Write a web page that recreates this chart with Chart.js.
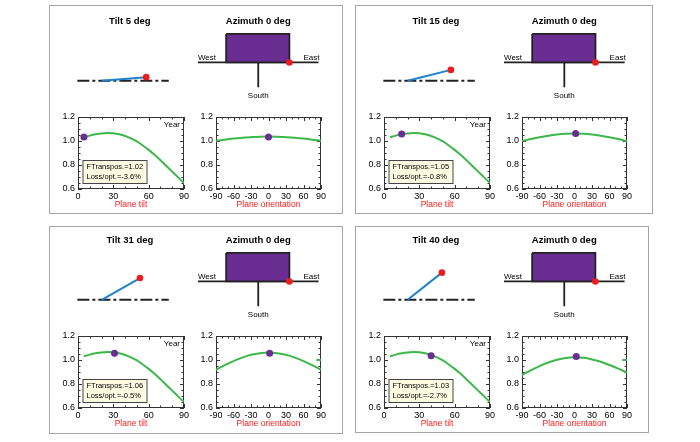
<!DOCTYPE html>
<html>
<head>
<meta charset="utf-8">
<script src="https://cdn.jsdelivr.net/npm/chart.js@4.4.1/dist/chart.umd.min.js"></script>
<style>
  body { margin: 0; background: #fff; width: 700px; height: 442px; overflow: hidden; position: relative; }
  .panel { position: absolute; border: 1.5px solid #a4a4a4; box-sizing: border-box; }
  canvas { position: absolute; }
</style>
</head>
<body>
<script>
// plane settings for the four cases
const tilts = [5, 15, 31, 40];
const azimuths = [0, 0, 0, 0];
const fTranspos = [1.02, 1.05, 1.06, 1.03];
const lossOpt = [-3.6, -0.8, -0.5, -2.7];

// yearly transposition factor vs plane tilt (same curve in all panels)
const tiltAngles = [5, 10, 15, 20, 25, 30, 35, 40, 45, 50, 55, 60, 65, 70, 75, 80, 85, 90];
const tiltYear = [1.030, 1.045, 1.056, 1.063, 1.066, 1.064, 1.056, 1.042, 1.022, 0.996, 0.963, 0.926, 0.885, 0.840, 0.792, 0.745, 0.697, 0.650];
const tiltDotY = [1.033, 1.058, 1.057, 1.035];

// transposition factor vs plane orientation, one curve per tilt
const orientAngles = [-90, -75, -60, -45, -30, -15, 0, 15, 30, 45, 60, 75, 90];
const orient5 = [1.002, 1.011, 1.020, 1.027, 1.032, 1.036, 1.037, 1.036, 1.032, 1.027, 1.020, 1.011, 1.002];
const orient15 = [1.000, 1.016, 1.031, 1.044, 1.054, 1.060, 1.062, 1.060, 1.054, 1.044, 1.031, 1.016, 0.998];
const orient31 = [0.920, 0.957, 0.991, 1.020, 1.043, 1.057, 1.062, 1.057, 1.043, 1.020, 0.991, 0.957, 0.920];
const orient40 = [0.875, 0.914, 0.949, 0.979, 1.002, 1.017, 1.022, 1.018, 1.005, 0.985, 0.958, 0.928, 0.895];
const orientCurves = [orient5, orient15, orient31, orient40];
const orientDotX = [0, 2, 2, 3];
const orientDotY = [1.033, 1.063, 1.057, 1.029];
const stubAngles = [82, 90];
const stubY = [null, null, 1.0, 1.0];

const tiltTicks = [0, 30, 60, 90];
const orientTicks = [-90, -60, -30, 0, 30, 60, 90];
const yTicks = [0.6, 0.8, 1.0, 1.2];

const FONT = "'Liberation Sans', Arial, Helvetica, sans-serif";
const GREEN = '#3cb84a';
const PURPLE = '#6a2d92';
const RED = '#ee1c1c';

const frames = [
  {x: 50, y: 6, w: 292, h: 207, dy: 0},
  {x: 356, y: 6, w: 296, h: 207, dy: 0},
  {x: 50, y: 227, w: 292, h: 206, dy: -2},
  {x: 356, y: 227, w: 292, h: 205, dy: -2}
];

function makeCanvas(left, top, w, h) {
  const c = document.createElement('canvas');
  c.width = w; c.height = h;
  c.style.left = left + 'px'; c.style.top = top + 'px';
  c.style.width = w + 'px'; c.style.height = h + 'px';
  document.body.appendChild(c);
  return c;
}

const baseOpts = {
  responsive: false,
  animation: false,
  events: [],
  plugins: { legend: { display: false }, tooltip: { enabled: false } }
};

// labels of the two little diagrams
const diagramText = {
  id: 'diagramText',
  afterDraw(chart, args, o) {
    const {ctx, scales: {x, y}} = chart;
    ctx.save();
    ctx.fillStyle = '#000';
    ctx.textBaseline = 'middle';
    ctx.textAlign = 'center';
    ctx.font = 'bold 9.5px ' + FONT;
    ctx.fillText(o.tiltTitle, x.getPixelForValue(78), y.getPixelForValue(12));
    ctx.fillText(o.azTitle, x.getPixelForValue(210), y.getPixelForValue(12));
    ctx.font = '8px ' + FONT;
    ctx.fillText('South', x.getPixelForValue(210), y.getPixelForValue(93));
    ctx.textAlign = 'left';
    ctx.fillText('West', x.getPixelForValue(148), y.getPixelForValue(52));
    ctx.textAlign = 'right';
    ctx.fillText('East', x.getPixelForValue(273), y.getPixelForValue(52));
    ctx.restore();
  }
};

// frame with inward ticks, "Year" label and info box
const axesBox = {
  id: 'axesBox',
  beforeDatasetsDraw(chart, args, o) {
    const {ctx, chartArea: a, scales: {x, y}} = chart;
    ctx.save();
    ctx.strokeStyle = '#333';
    ctx.lineWidth = 1;
    ctx.strokeRect(a.left + 0.5, a.top + 0.5, a.width - 1, a.height - 1);
    ctx.beginPath();
    for (let v = x.min; v <= x.max; v += 10) {
      const px = Math.round(x.getPixelForValue(v)) + 0.5;
      const len = v % 30 === 0 ? 4 : 2.5;
      ctx.moveTo(px, a.bottom); ctx.lineTo(px, a.bottom - len);
      ctx.moveTo(px, a.top); ctx.lineTo(px, a.top + len);
    }
    for (let k = 0; k <= 12; k++) {
      const py = Math.round(y.getPixelForValue(0.6 + k * 0.05)) + 0.5;
      const len = k % 4 === 0 ? 4 : 2.5;
      ctx.moveTo(a.left, py); ctx.lineTo(a.left + len, py);
      ctx.moveTo(a.right, py); ctx.lineTo(a.right - len, py);
    }
    ctx.stroke();
    ctx.restore();
  },
  afterDraw(chart, args, o) {
    if (!o.info) return;
    const {ctx, chartArea: a} = chart;
    ctx.save();
    ctx.fillStyle = '#000';
    ctx.font = '8px ' + FONT;
    ctx.textAlign = 'right';
    ctx.textBaseline = 'middle';
    ctx.fillText('Year', a.right - 4, a.top + 8);
    const bx = a.left + 4.5, bw = 64, bh = 23, by = a.bottom - 6 - bh;
    ctx.fillStyle = '#fffbe3';
    ctx.fillRect(bx, by, bw, bh);
    ctx.strokeStyle = '#444';
    ctx.strokeRect(bx + 0.5, by + 0.5, bw, bh);
    ctx.fillStyle = '#000';
    ctx.textAlign = 'left';
    ctx.font = '7.5px ' + FONT;
    ctx.fillText(o.info[0], bx + 4, by + 7);
    ctx.fillText(o.info[1], bx + 4, by + 17);
    ctx.restore();
  }
};

function diagram(i, f) {
  const T = f.y + f.dy;
  const c = makeCanvas(f.x, T, f.w, 100);
  const t = tilts[i] * Math.PI / 180;
  const px = 49, py = 77, len = 46;
  const tip = {x: px + len * Math.cos(t), y: py - len * Math.sin(t)};
  const azDot = {x: 242 - azimuths[i], y: 57};
  new Chart(c, {
    type: 'line',
    data: {
      datasets: [
        { data: [tip, azDot], showLine: false, pointRadius: 3.3, pointBackgroundColor: RED, pointBorderWidth: 0 },
        { data: [{x: px, y: py}, tip], borderColor: '#1f80cc', borderWidth: 2, pointRadius: 0 },
        { data: [{x: 24, y: 77}, {x: 118, y: 77}], borderColor: '#222', borderWidth: 2, borderDash: [12, 3, 3, 3], pointRadius: 0 },
        { data: [{x: 177, y: 26}, {x: 242, y: 26}, {x: 242, y: 57}, {x: 177, y: 57}, {x: 177, y: 26}],
          borderColor: '#222', borderWidth: 1.8, backgroundColor: PURPLE, fill: 'shape', pointRadius: 0, tension: 0 },
        { data: [{x: 148, y: 57}, {x: 272, y: 57}], borderColor: '#222', borderWidth: 1.8, pointRadius: 0 },
        { data: [{x: 210, y: 57}, {x: 210, y: 84}], borderColor: '#222', borderWidth: 1.8, pointRadius: 0 }
      ]
    },
    options: {
      ...baseOpts,
      layout: { padding: 0 },
      scales: {
        x: { type: 'linear', display: false, min: 0, max: f.w },
        y: { type: 'linear', display: false, min: 0, max: 100, reverse: true }
      },
      plugins: {
        ...baseOpts.plugins,
        diagramText: { tiltTitle: 'Tilt ' + tilts[i] + ' deg', azTitle: 'Azimuth ' + azimuths[i] + ' deg' }
      }
    },
    plugins: [diagramText]
  });
}

function plot(f, relLeft, plotW, xMin, xMax, ticks, title, datasets, info) {
  const padTop = 10, padRight = 12, yW = 28, xH = 21, plotH = 72;
  const c = makeCanvas(f.x + relLeft - yW, f.y + f.dy + 111 - padTop, yW + plotW + padRight, padTop + plotH + xH);
  new Chart(c, {
    type: 'line',
    data: { datasets },
    options: {
      ...baseOpts,
      layout: { padding: { top: padTop, right: padRight, left: 0, bottom: 0 } },
      scales: {
        x: {
          type: 'linear', min: xMin, max: xMax,
          grid: { display: false, drawTicks: false }, border: { display: false },
          afterBuildTicks: s => { s.ticks = ticks.map(v => ({value: v})); },
          afterFit: s => { s.height = xH; },
          ticks: { autoSkip: false, maxRotation: 0, padding: 2, color: '#000', font: { size: 9, family: FONT } },
          title: { display: true, text: title, color: '#ff1a1a', font: { size: 8.5, family: FONT }, padding: 0 }
        },
        y: {
          type: 'linear', min: 0.6, max: 1.2,
          grid: { display: false, drawTicks: false }, border: { display: false },
          afterBuildTicks: s => { s.ticks = yTicks.map(v => ({value: v})); },
          afterFit: s => { s.width = yW; },
          ticks: { padding: 3, color: '#000', font: { size: 9, family: FONT }, callback: v => v.toFixed(1) }
        }
      },
      plugins: { ...baseOpts.plugins, axesBox: { info } }
    },
    plugins: [axesBox]
  });
}

function dot(x, y) {
  return { data: [{x, y}], showLine: false, pointRadius: 3.5, pointBackgroundColor: PURPLE, pointBorderWidth: 0 };
}
function curve(xs, ys) {
  return { data: xs.map((a, k) => ({x: a, y: ys[k]})), borderColor: GREEN, borderWidth: 2, pointRadius: 0, cubicInterpolationMode: 'monotone' };
}

frames.forEach((f, i) => {
  const d = document.createElement('div');
  d.className = 'panel';
  d.style.left = (f.x - 1) + 'px'; d.style.top = (f.y - 1) + 'px';
  d.style.width = (f.w + 2) + 'px'; d.style.height = (f.h + 2) + 'px';
  document.body.appendChild(d);

  diagram(i, f);

  plot(f, 28, 106, 0, 90, tiltTicks, 'Plane tilt',
    [dot(tilts[i], tiltDotY[i]), curve(tiltAngles, tiltYear)],
    ['FTranspos.=' + fTranspos[i].toFixed(2), 'Loss/opt.=' + lossOpt[i].toFixed(1) + '%']);

  const oSets = [dot(orientDotX[i], orientDotY[i]), curve(orientAngles, orientCurves[i])];
  if (stubY[i] !== null) oSets.push(curve(stubAngles, [stubY[i], stubY[i]]));
  plot(f, 166, 105, -90, 90, orientTicks, 'Plane orientation', oSets, null);
});
</script>
</body>
</html>
